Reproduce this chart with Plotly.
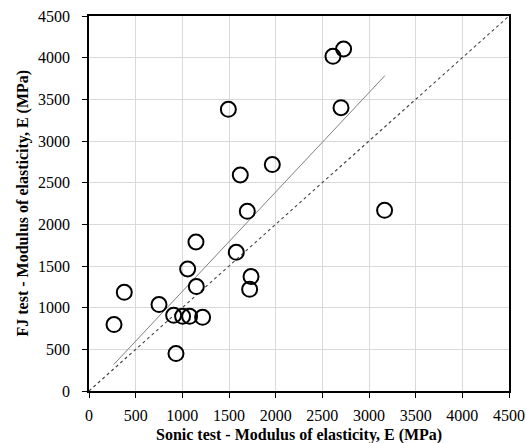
import plotly.graph_objects as go

sonic_E = [268, 378, 750, 932, 907, 1003, 1078, 1217, 1057, 1146, 1150, 1493, 1578, 1621,
           1696, 1721, 1736, 1964, 2614, 2728, 2700, 3167]
fj_E = [797, 1184, 1037, 449, 908, 896, 896, 884, 1464, 1788, 1253, 3380, 1664, 2592,
        2156, 1220, 1373, 2717, 4016, 4104, 3400, 2168]

trend_x = [264, 3171]
trend_y = [317, 3785]
equal_x = [0, 4500]
equal_y = [0, 4500]

tick_vals = [0, 500, 1000, 1500, 2000, 2500, 3000, 3500, 4000, 4500]

font_serif = "Liberation Serif"

fig = go.Figure()
fig.add_trace(go.Scatter(x=equal_x, y=equal_y, mode="lines",
                         line=dict(color="#404040", width=1.1, dash="dot"),
                         showlegend=False, hoverinfo="skip"))
fig.add_trace(go.Scatter(x=trend_x, y=trend_y, mode="lines",
                         line=dict(color="#7f7f7f", width=1),
                         showlegend=False, hoverinfo="skip"))
fig.add_trace(go.Scatter(x=sonic_E, y=fj_E, mode="markers",
                         marker=dict(symbol="circle-open", size=15, color="black",
                                     line=dict(width=2, color="black")),
                         showlegend=False))

axis_common = dict(
    range=[0, 4500], tickvals=tick_vals, ticktext=[str(v) for v in tick_vals],
    showgrid=True, gridcolor="#d9d9d9", gridwidth=1,
    showline=True, linecolor="black", linewidth=1.5, mirror=True,
    ticks="outside", ticklen=5, tickwidth=1.2, tickcolor="black",
    zeroline=False, automargin=False, ticklabeloverflow="allow",
    tickfont=dict(family=font_serif, size=16, color="black"),
)

fig.update_xaxes(**axis_common, ticklabelstandoff=4)
fig.update_yaxes(**axis_common, ticklabelstandoff=9)

fig.add_annotation(text="<b>Sonic test - Modulus of elasticity, E (MPa)</b>",
                   xref="paper", yref="paper", x=0.5, y=0, yshift=-44,
                   xanchor="center", yanchor="middle", showarrow=False,
                   font=dict(family=font_serif, size=16, color="black"))
fig.add_annotation(text="<b>FJ test - Modulus of elasticity, E (MPa)</b>",
                   xref="paper", yref="paper", x=0, y=0.5, xshift=-67,
                   xanchor="center", yanchor="middle", textangle=-90, showarrow=False,
                   font=dict(family=font_serif, size=16, color="black"))

fig.update_layout(
    width=526, height=443,
    margin=dict(l=89, r=17, t=16, b=52),
    plot_bgcolor="white", paper_bgcolor="white",
)

fig.write_html("out.html", config={"displayModeBar": False},
               post_script="document.body.style.margin='0';document.body.style.overflow='hidden';")
